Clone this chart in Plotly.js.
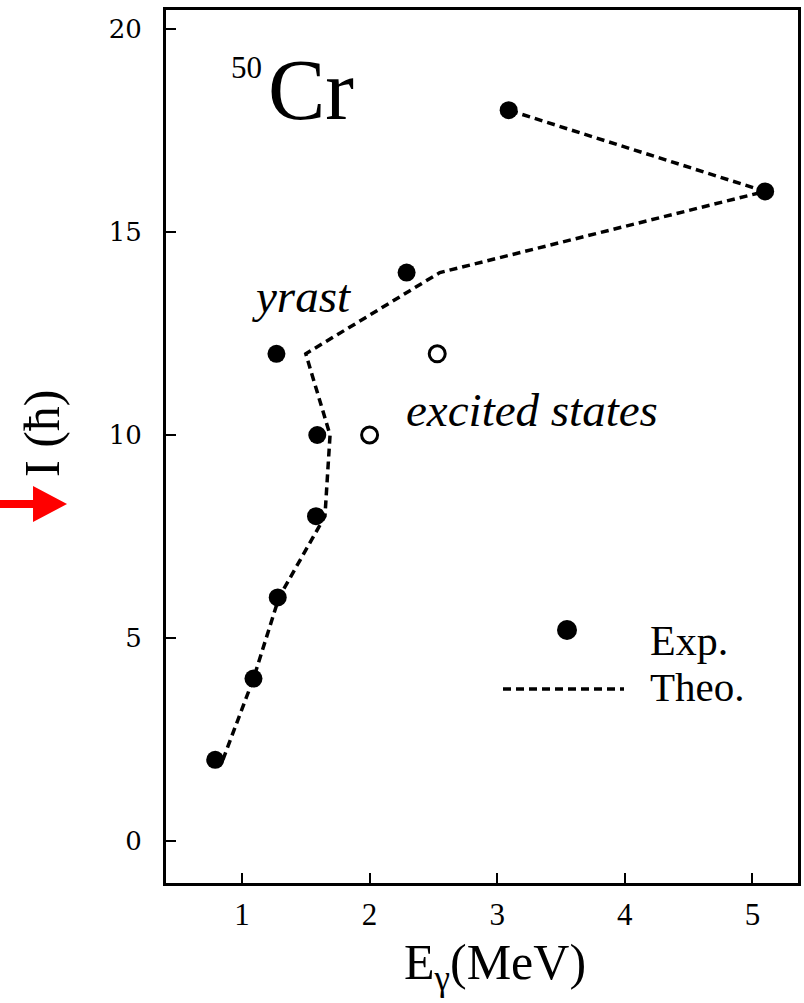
<!DOCTYPE html>
<html>
<head>
<meta charset="utf-8">
<script src="https://cdn.plot.ly/plotly-3.0.1.min.js"></script>
<style>html,body{margin:0;padding:0;background:#fff;}#plot{width:804px;height:1003px;}</style>
</head>
<body>
<div id="plot"></div>
<script>
// Spin values I (hbar)
const spinYrast = [2, 4, 6, 8, 10, 12, 14, 16, 18];
// Experimental gamma energies (MeV), yrast band
const expYrast = [0.79, 1.09, 1.28, 1.58, 1.59, 1.27, 2.29, 5.10, 3.09];
// Experimental excited states
const spinExcited = [10, 12];
const expExcited = [2.00, 2.53];
// Theoretical curve
const spinTheo = [2, 4, 6, 8, 10, 12, 14, 16, 18];
const theo = [0.85, 1.09, 1.29, 1.65, 1.69, 1.50, 2.55, 5.10, 3.09];
// Ticks
const xTicks = [1, 2, 3, 4, 5];
const yTicks = [0, 5, 10, 15, 20];

const W = 804, H = 1003;
const L = 166, R = 798, T = 10, B = 883;
const px = x => (x - L) / (R - L);
const py = y => (B - y) / (B - T);

const serif = 'Liberation Serif, Times New Roman, serif';

const traces = [
  {x: theo, y: spinTheo, mode: 'lines', name: 'Theo.',
   line: {color: '#000', width: 3.5, dash: '8px,5px'}, showlegend: false},
  {x: expYrast, y: spinYrast, mode: 'markers', name: 'Exp.',
   marker: {color: '#000', size: 18, symbol: 'circle'}, showlegend: false},
  {x: expExcited, y: spinExcited, mode: 'markers', name: 'excited states',
   marker: {color: '#000', size: 16, symbol: 'circle-open', line: {width: 3, color: '#000'}}, showlegend: false}
];

// arrow path (decorative, pixel-defined)
function P(x, y) { return px(x).toFixed(4) + ',' + py(y).toFixed(4); }
const arrowPath = 'M' + P(0, 500) + ' L' + P(33, 500) + ' L' + P(33, 486) + ' L' + P(67, 504) +
  ' L' + P(33, 522) + ' L' + P(33, 508) + ' L' + P(0, 508) + ' Z';

const layout = {
  width: W, height: H, autosize: false,
  margin: {l: L, r: W - R, t: T, b: H - B, pad: 0},
  paper_bgcolor: '#fff', plot_bgcolor: '#fff',
  showlegend: false,
  xaxis: {
    range: [1 + (L - 242) / 127.6, 1 + (R - 242) / 127.6],
    tickvals: xTicks, ticktext: xTicks.map(String),
    ticks: 'inside', ticklen: 10, tickwidth: 2, tickcolor: '#000',
    showline: true, linewidth: 3, linecolor: '#000', mirror: true,
    showgrid: false, zeroline: false,
    tickfont: {family: serif, size: 31, color: '#000'},
    ticklabelstandoff: 2
  },
  yaxis: {
    range: [(841 - B) / 40.6, (841 - T) / 40.6],
    tickvals: yTicks, ticktext: yTicks.map(String),
    ticks: 'inside', ticklen: 10, tickwidth: 2, tickcolor: '#000',
    showline: true, linewidth: 3, linecolor: '#000', mirror: true,
    showgrid: false, zeroline: false,
    tickfont: {family: 'DejaVu Serif, serif', size: 26, color: '#000'},
    ticklabelstandoff: 16
  },
  annotations: [
    {xref: 'paper', yref: 'paper', x: px(311), y: py(90), text: 'Cr', showarrow: false,
     xanchor: 'center', yanchor: 'middle', font: {family: serif, size: 86, color: '#000'}},
    {xref: 'paper', yref: 'paper', x: px(246), y: py(68), text: '50', showarrow: false,
     xanchor: 'center', yanchor: 'middle', font: {family: serif, size: 31, color: '#000'}},
    {xref: 'paper', yref: 'paper', x: px(301), y: py(296), text: '<i>yrast</i>', showarrow: false,
     xanchor: 'center', yanchor: 'middle', font: {family: serif, size: 47, color: '#000'}},
    {xref: 'paper', yref: 'paper', x: px(532), y: py(410), text: '<i>excited states</i>', showarrow: false,
     xanchor: 'center', yanchor: 'middle', font: {family: serif, size: 47, color: '#000'}},
    {xref: 'paper', yref: 'paper', x: px(648), y: py(641), text: 'Exp.', showarrow: false,
     xanchor: 'left', yanchor: 'middle', font: {family: serif, size: 42, color: '#000'}},
    {xref: 'paper', yref: 'paper', x: px(648), y: py(687), text: 'Theo.', showarrow: false,
     xanchor: 'left', yanchor: 'middle', font: {family: serif, size: 41, color: '#000'}},
    {xref: 'paper', yref: 'paper', x: px(495), y: py(966), text: 'E<sub>γ</sub>(MeV)', showarrow: false,
     xanchor: 'center', yanchor: 'middle', font: {family: serif, size: 50, color: '#000'}},
    {xref: 'paper', yref: 'paper', x: px(42), y: py(434), text: 'I (ħ)', showarrow: false, textangle: -90,
     xanchor: 'center', yanchor: 'middle', font: {family: serif, size: 50, color: '#000'}}
  ],
  shapes: [
    {type: 'circle', xref: 'paper', yref: 'paper', x0: px(557), x1: px(577), y0: py(620), y1: py(640),
     fillcolor: '#000', line: {width: 0}},
    {type: 'line', xref: 'paper', yref: 'paper', x0: px(503), x1: px(624), y0: py(689), y1: py(689),
     line: {color: '#000', width: 3.5, dash: '8px,5px'}},
    {type: 'path', xref: 'paper', yref: 'paper', path: arrowPath, fillcolor: '#ff0000', line: {width: 0}}
  ]
};

Plotly.newPlot('plot', traces, layout, {staticPlot: true, displayModeBar: false});
</script>
</body>
</html>
